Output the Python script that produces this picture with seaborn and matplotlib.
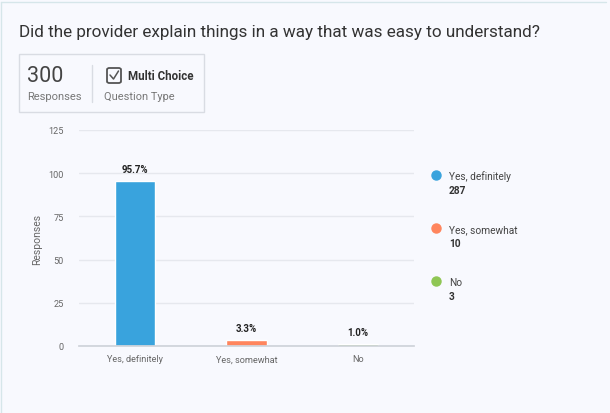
import pandas as pd
import seaborn as sns
import matplotlib.pyplot as plt
from matplotlib.patches import Rectangle, FancyBboxPatch
from matplotlib.lines import Line2D

# data
categories = ["Yes, definitely", "Yes, somewhat", "No"]
percents = [95.7, 3.3, 1.0]
counts = [287, 10, 3]
colors = ["#39a3dd", "#ff855d", "#8fc654"]
total = 300

title = "Did the provider explain things in a way that was easy to understand?"

sns.set_theme(style="white")
plt.rcParams["font.family"] = ["Roboto", "DejaVu Sans"]

W, H = 610, 414
bg = "#f8f9fe"
fig = plt.figure(figsize=(W / 100, H / 100), dpi=100, facecolor=bg)


def fx(px):
    return px / W


def fy(py):
    return 1 - py / H


# card border (faint, top and left)
fig.add_artist(Line2D([fx(1), fx(1)], [fy(3), 0], color="#d6e6ea", lw=1))
fig.add_artist(Line2D([fx(1), fx(606)], [fy(3), fy(3)], color="#d6e6ea", lw=1))

fig.text(fx(19), fy(32), title, fontsize=12.3, color="#333333", va="center", ha="left")

# info box
fig.add_artist(Rectangle((fx(19), fy(113)), fx(185), 58 / H, transform=fig.transFigure,
                         facecolor=bg, edgecolor="#d9dce3", lw=1))
fig.text(fx(27), fy(77), str(total), fontsize=15.5, color="#444444", va="center", ha="left")
fig.text(fx(27), fy(97), "Responses", fontsize=8, color="#777777", va="center", ha="left")
fig.add_artist(Line2D([fx(92), fx(92)], [fy(66), fy(103)], color="#d9dce3", lw=1))
fig.add_artist(FancyBboxPatch((fx(107), fy(84)), fx(14), 15 / H, transform=fig.transFigure,
                              boxstyle="round,pad=0,rounding_size=0.004",
                              facecolor="none", edgecolor="#555555", lw=1.3))
fig.add_artist(Line2D([fx(110), fx(113.5), fx(118.5)], [fy(76), fy(80), fy(72)],
                      color="#555555", lw=1.1))
fig.text(fx(128), fy(76), "Multi Choice", fontsize=8.3, color="#333333",
         fontweight="bold", va="center", ha="left")
fig.text(fx(104), fy(97), "Question Type", fontsize=7.9, color="#777777", va="center", ha="left")

# bar chart
df = pd.DataFrame({"category": categories, "percent": percents, "count": counts})
ax = fig.add_axes([fx(79), fy(347), fx(335), (347 - 131) / H])
ax.set_facecolor(bg)
sns.barplot(data=df, x="category", y="percent", hue="category", palette=colors,
            width=0.36, legend=False, ax=ax, saturation=1)
ax.set_ylim(0, 125)
ax.set_yticks([0, 25, 50, 75, 100, 125])
ax.yaxis.grid(True, color="#e6e8ee", lw=1)
ax.set_axisbelow(True)
for s in ["top", "right", "left"]:
    ax.spines[s].set_visible(False)
ax.spines["bottom"].set_color("#cfd3da")
ax.tick_params(axis="both", length=0, labelsize=6.6, colors="#666666")
ax.tick_params(axis="y", pad=11)
ax.tick_params(axis="x", pad=6)
ax.set_xlabel("")
ax.set_ylabel("Responses", fontsize=7.5, color="#666666", labelpad=4.5)

for i, p in enumerate(percents):
    ax.annotate(f"{p:.1f}%", (i, p), xytext=(0, 5), textcoords="offset points",
                ha="center", va="bottom", fontsize=7, fontweight="bold", color="#222222")

# legend
for i, (c, n, col) in enumerate(zip(categories, counts, colors)):
    y = 176 + i * 53
    fig.add_artist(Line2D([fx(436)], [fy(y)], marker="o", markersize=6.5,
                          color=col, lw=0))
    fig.text(fx(449), fy(y + 1), c, fontsize=7.3, color="#444444", va="center", ha="left")
    fig.text(fx(449), fy(y + 15), str(n), fontsize=7.3, color="#333333",
             fontweight="bold", va="center", ha="left")

fig.savefig("out.png", dpi=100, facecolor=bg)
